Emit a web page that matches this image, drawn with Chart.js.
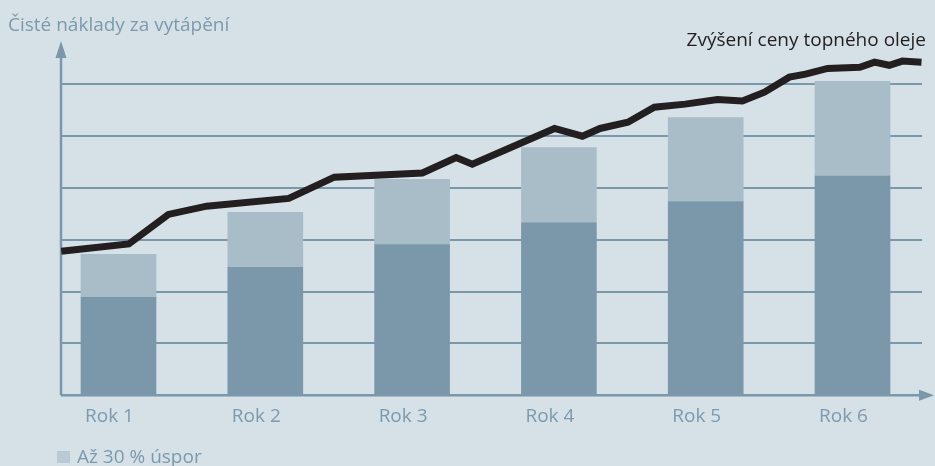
<!DOCTYPE html>
<html><head><meta charset="utf-8">
<script src="https://cdn.jsdelivr.net/npm/chart.js@4.4.1/dist/chart.umd.min.js"></script>
<style>html,body{margin:0;padding:0;background:#d6e0e7;overflow:hidden}#wrap{width:935px;height:466px;position:relative}</style>
</head><body><div id="wrap"><canvas id="c" width="935" height="466"></canvas></div>
<script>
const TITLE = 'Čisté náklady za vytápění';
const LINE_LABEL = 'Zvýšení ceny topného oleje';
const LEGEND_LABEL = 'Až 30 % úspor';
const CATEGORIES = ['Rok 1', 'Rok 2', 'Rok 3', 'Rok 4', 'Rok 5', 'Rok 6'];
const NET_COST = [1.89, 2.47, 2.91, 3.33, 3.74, 4.23];
const SAVINGS = [0.83, 1.06, 1.26, 1.45, 1.62, 1.83];
const OIL_X = [0.61, 1.07, 1.34, 1.60, 2.16, 2.47, 3.07, 3.30, 3.41, 3.97, 4.16, 4.28, 4.47, 4.65, 4.86, 5.08, 5.25, 5.40, 5.57, 5.68, 5.83, 6.05, 6.15, 6.25, 6.34, 6.47];
const OIL_Y = [2.78, 2.92, 3.49, 3.65, 3.80, 4.21, 4.29, 4.59, 4.46, 5.15, 5.00, 5.15, 5.27, 5.56, 5.62, 5.71, 5.68, 5.85, 6.14, 6.20, 6.31, 6.33, 6.43, 6.37, 6.45, 6.43];
const GRID_VALUES = [1, 2, 3, 4, 5, 6];

const BG = '#d6e0e7';
const DARK = '#7b98aa';
const LIGHT = '#a9bdc8';
const LEGEND_SWATCH = '#b9cad4';
const TEXT = '#7d9aac';
const INK = '#231f20';
const FONT = "'Open Sans', 'Noto Sans', sans-serif";
const FONT_SIZE = 19;

const decor = {
  id: 'decor',
  beforeDraw(chart) {
    const c = chart.ctx;
    c.save();
    c.fillStyle = BG;
    c.fillRect(0, 0, chart.width, chart.height);
    c.restore();
  },
  beforeDatasetsDraw(chart) {
    const c = chart.ctx, a = chart.chartArea;
    const y0 = chart.scales.y.getPixelForValue(0);
    c.save();
    c.strokeStyle = DARK; c.fillStyle = DARK; c.lineWidth = 2.5;
    c.beginPath();
    c.moveTo(a.left, y0); c.lineTo(a.left, a.top + 14);
    c.moveTo(a.left, y0); c.lineTo(a.right, y0);
    c.stroke();
    c.beginPath();
    c.moveTo(a.left, a.top - 2); c.lineTo(a.left - 5.5, a.top + 15); c.lineTo(a.left + 5.5, a.top + 15); c.closePath(); c.fill();
    c.beginPath();
    c.moveTo(a.right + 12, y0); c.lineTo(a.right - 3, y0 - 5.5); c.lineTo(a.right - 3, y0 + 5.5); c.closePath(); c.fill();
    c.restore();
  },
  afterDraw(chart) {
    const c = chart.ctx;
    c.save();
    c.font = FONT_SIZE + 'px ' + FONT;
    c.textBaseline = 'alphabetic';
    c.fillStyle = TEXT; c.textAlign = 'left';
    c.fillText(TITLE, 8, 31);
    c.fillStyle = INK; c.textAlign = 'right';
    c.fillText(LINE_LABEL, 926, 46);
    c.fillStyle = LEGEND_SWATCH;
    c.fillRect(57, 451, 13, 12);
    c.fillStyle = TEXT; c.textAlign = 'left';
    c.fillText(LEGEND_LABEL, 77, 463);
    c.restore();
  }
};

new Chart(document.getElementById('c'), {
  data: {
    datasets: [
      { type: 'line', label: LINE_LABEL, data: OIL_X.map((x, i) => ({ x, y: OIL_Y[i] })),
        borderColor: INK, borderWidth: 7, pointRadius: 0, tension: 0, clip: false,
        borderJoinStyle: 'miter', borderCapStyle: 'butt', stack: 'oil', order: 0 },
      { type: 'bar', label: 'Čisté náklady', data: NET_COST.map((y, i) => ({ x: i + 1, y })),
        backgroundColor: DARK, barThickness: 75, stack: 'cost', order: 1 },
      { type: 'bar', label: LEGEND_LABEL, data: SAVINGS.map((y, i) => ({ x: i + 1, y })),
        backgroundColor: LIGHT, barThickness: 75, stack: 'cost', order: 1 }
    ]
  },
  options: {
    responsive: false, animation: false,
    layout: { padding: { left: 61, right: 13, top: 43, bottom: 28 } },
    plugins: { legend: { display: false }, tooltip: { enabled: false }, title: { display: false } },
    scales: {
      x: {
        type: 'linear', min: 0.6083, max: 6.4734, stacked: true, offset: false,
        grid: { display: false, drawTicks: false, offset: false }, border: { display: false },
        afterBuildTicks: s => { s.ticks = CATEGORIES.map((_, i) => ({ value: i + 1 })); },
        ticks: { callback: v => CATEGORIES[Math.round(v) - 1], labelOffset: -9, padding: 10,
                 color: TEXT, font: { family: FONT, size: FONT_SIZE }, maxRotation: 0, autoSkip: false }
      },
      y: {
        type: 'linear', min: 0, max: 6.8, stacked: true,
        afterBuildTicks: s => { s.ticks = GRID_VALUES.map(v => ({ value: v })); },
        ticks: { display: false },
        grid: { color: DARK, lineWidth: 2, drawTicks: false }, border: { display: false }
      }
    }
  },
  plugins: [decor]
});
</script>
</body></html>
